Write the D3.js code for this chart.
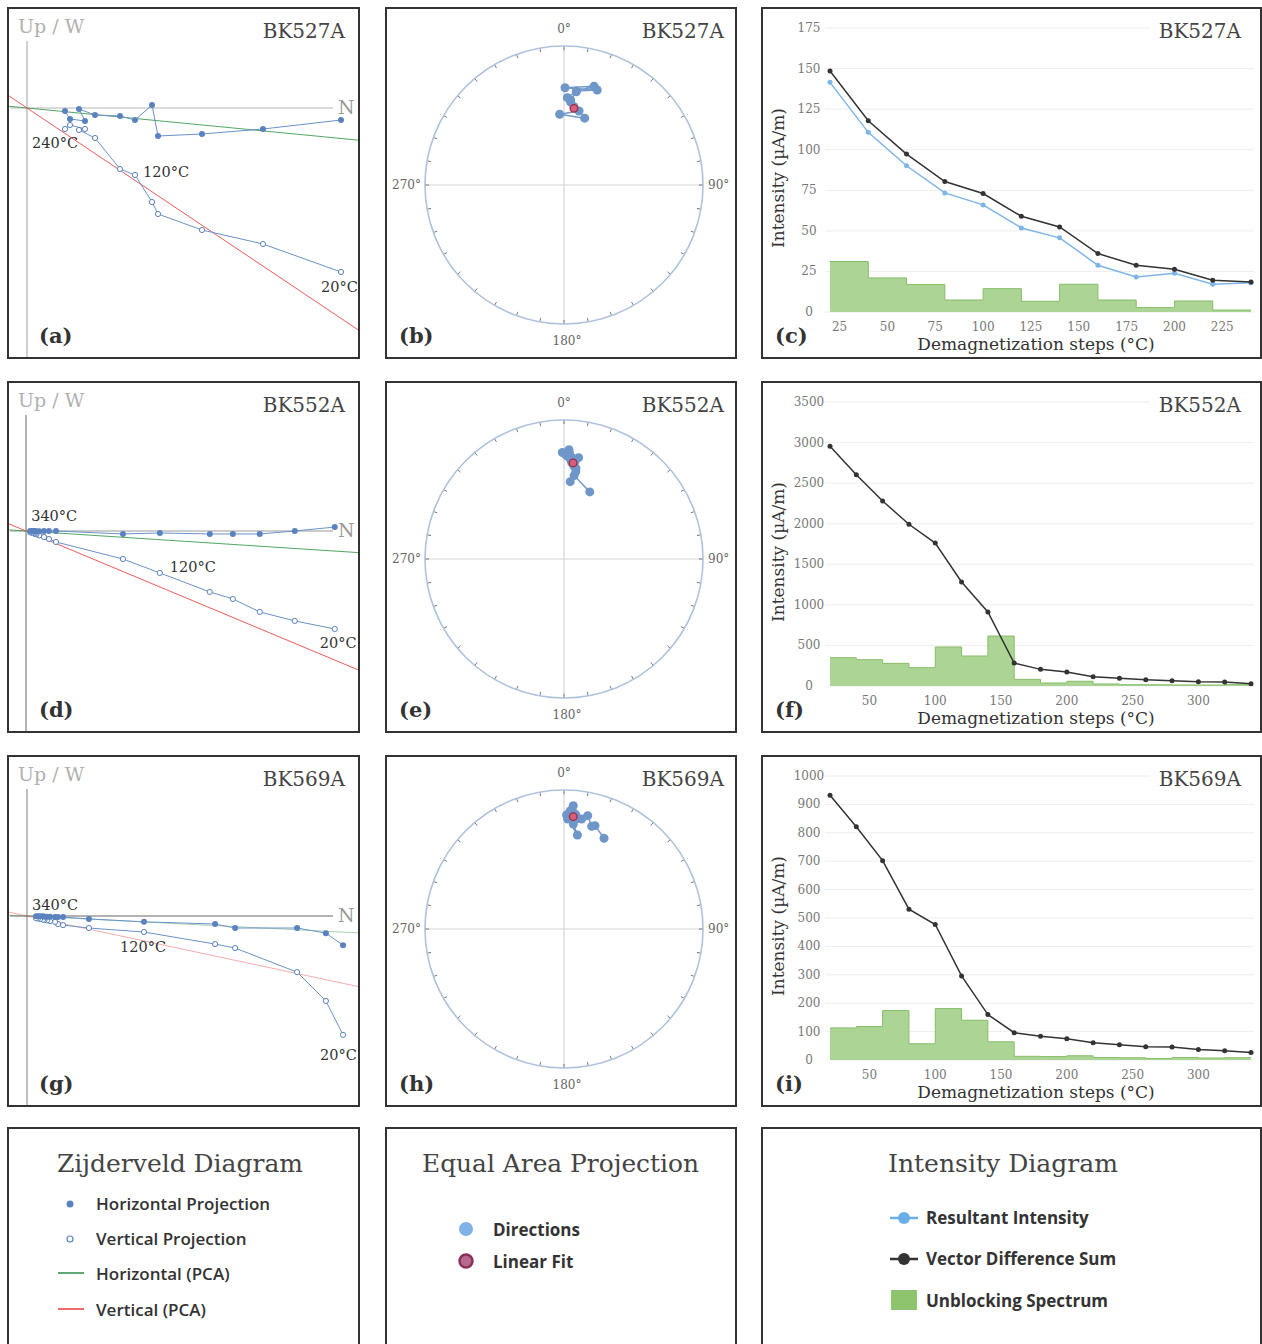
<!DOCTYPE html>
<html lang="en">
<head>
<meta charset="UTF-8">
<title>Demagnetization results - BK527A, BK552A, BK569A</title>
<script src="https://cdnjs.cloudflare.com/ajax/libs/d3/7.8.5/d3.min.js"></script>
<style>
    body { margin: 0; background: #fff; }
    svg { display: block; }
</style>
</head>
<body>
<svg id="fig" width="1262" height="1344"></svg>
<script>
// ---------- data ----------
const steps527 = [20, 40, 60, 80, 100, 120, 140, 160, 180, 200, 220, 240];
const steps552 = [20, 40, 60, 80, 100, 120, 140, 160, 180, 200, 220, 240, 260, 280, 300, 320, 340];
const steps569 = [20, 40, 60, 80, 100, 120, 140, 160, 180, 200, 220, 240, 260, 280, 300, 320, 340];

// Zijderveld components (µA/m): north, east, down
const north527 = [125.6, 94.4, 70, 52.4, 50, 43.2, 37.2, 27.2, 20.8, 23.2, 17.2, 15.2];
const east527  = [4.8, 8.4, 10.4, 11.2, -1.2, 4.8, 3.2, 2.8, 0.4, 5.2, 4.4, 1.2];
const down527  = [65.6, 54.4, 48.8, 42.4, 37.6, 26.8, 24.4, 12, 8.8, 8.4, 6.8, 8.4];

const north552 = [2812, 2448, 2129, 1884, 1674, 1219, 883, 273, 209, 164, 120, 95, 82, 72, 62, 52, 38];
const east552  = [-36, 0, 27, 27, 27, 18, 27, 0, 0, 0, 3, 2, 2, 1, 1, 1, 0];
const down552  = [892, 819, 737, 619, 555, 382, 255, 100, 73, 55, 40, 30, 26, 22, 18, 15, 12];

const north569 = [867, 820, 741, 571, 516, 321, 170, 99, 85, 77, 63, 55, 48, 44, 36, 30, 25];
const east569  = [80, 47, 33, 33, 22, 16, 8, 3, 3, 3, 2, 2, 2, 1, 1, 1, 1];
const down569  = [326, 233, 154, 88, 77, 44, 33, 25, 22, 16, 14, 12, 11, 10, 8, 7, 6];

// PCA fit slopes (east/north, down/north)
const pca527 = [0.097, 0.67];
const pca552 = [0.065, 0.418];
const pca569 = [0.051, 0.213];

// equal area directions (declination, inclination in degrees)
const dec527 = [17.2, -3.5, 11.5, 4.6, 2.2, 7.5, 19.3, 0.6, 16.9, 7.5, 4.5, 7.3];
const inc527 = [48.3, 47.7, 44.8, 40.0, 37.2, 32.4, 28.4, 30.7, 26.6, 32.8, 38.6, 42.6];
const fit527 = [7.4, 43.7];

const dec552 = [21.0, 6.9, 4.6, 7.7, 7.5, 8.2, 6.5, 3.9, 2.6, -0.9, 0.9, 3.0, 5.0, 6.0, 4.5, 2.0, 5.5];
const inc552 = [47.1, 39.4, 43.5, 36.7, 34.5, 27.2, 30.0, 29.3, 22.4, 24.4, 26.0, 25.0, 28.0, 33.0, 31.0, 27.0, 32.0];
const fit552 = [5.4, 31.2];

const dec569 = [23.8, 16.7, 15.1, 11.8, 9.1, 5.1, 8.1, 1.9, 1.3, 4.0, 4.3, 3.0, 6.0, 2.5, 7.0, 3.5, 5.5];
const inc569 = [29.4, 23.4, 24.5, 17.8, 21.0, 25.2, 32.2, 21.9, 19.1, 15.8, 12.0, 16.0, 19.0, 18.0, 21.0, 20.5, 18.0];
const fit569 = [4.7, 20.0];

// intensity (µA/m)
const res527 = [141.5, 110.7, 90.1, 73.4, 66, 51.8, 45.7, 28.8, 21.6, 23.9, 17.1, 18.1];
const vds527 = [148.5, 117.8, 97.3, 80.4, 73, 59, 52.4, 36, 28.8, 26.3, 19.6, 18.5];
const ubs527 = [31.1, 21, 16.9, 7.4, 14.4, 6.6, 17.1, 7.4, 2.7, 6.8, 1.2];

const vds552 = [2954, 2604, 2280, 1993, 1762, 1282, 912, 283, 205, 172, 115, 94, 78, 66, 53, 49, 29];
const ubs552 = [349, 324, 279, 226, 481, 370, 616, 82, 37, 58, 25, 16, 15, 13, 12, 20];

const vds569 = [932, 821, 702, 531, 477, 296, 160, 96, 84, 75, 61, 54, 47, 46, 37, 33, 26];
const ubs569 = [113, 118, 174, 57, 181, 140, 64, 13, 12, 15, 9, 8, 5, 9, 7, 8];

// tick labels
const yTicks527 = [0, 25, 50, 75, 100, 125, 150, 175];
const yTicks552 = [0, 500, 1000, 1500, 2000, 2500, 3000, 3500];
const yTicks569 = [0, 100, 200, 300, 400, 500, 600, 700, 800, 900, 1000];
const xTicks527 = [25, 50, 75, 100, 125, 150, 175, 200, 225];
const xTicks552 = [50, 100, 150, 200, 250, 300];

// ---------- layout ----------
const SERIF = "'DejaVu Serif', serif";
const SANS = "'Open Sans', Roboto, sans-serif";
const cols = [8, 386, 762];
const colW = [351, 350, 499];
const rows = [8, 382, 756];
const panelH = 350;

const svg = d3.select('#fig');

const samples = [
    {
        name: 'BK527A', letters: ['(a)', '(b)', '(c)'],
        steps: steps527, north: north527, east: east527, down: down527, pca: pca527,
        dec: dec527, inc: inc527, fit: fit527,
        res: res527, vds: vds527, ubs: ubs527, yTicks: yTicks527, xTicks: xTicks527,
        view: { k: 2.5, ox: 19, oy: 100, pcaOpacity: 0.9, vAxis: ['#cfcfcf', 2], hAxis: ['#b5b5b5', 1] },
        labels: [
            { i: 11, text: '240°C', dx: -33, dy: 19 },
            { i: 5, text: '120°C', dx: 8, dy: 2 },
            { i: 0, text: '20°C', dx: -20, dy: 20 }
        ],
        eaShift: 0
    },
    {
        name: 'BK552A', letters: ['(d)', '(e)', '(f)'],
        steps: steps552, north: north552, east: east552, down: down552, pca: pca552,
        dec: dec552, inc: inc552, fit: fit552,
        res: null, vds: vds552, ubs: ubs552, yTicks: yTicks552, xTicks: xTicks552,
        view: { k: 0.1098, ox: 18, oy: 149, pcaOpacity: 0.9, vAxis: ['#666', 1], hAxis: ['#999', 1] },
        labels: [
            { i: 16, text: '340°C', dx: 1, dy: -10, h: true },
            { i: 5, text: '120°C', dx: 10, dy: -1 },
            { i: 0, text: '20°C', dx: -15, dy: 19 }
        ],
        eaShift: 0
    },
    {
        name: 'BK569A', letters: ['(g)', '(h)', '(i)'],
        steps: steps569, north: north569, east: east569, down: down569, pca: pca569,
        dec: dec569, inc: inc569, fit: fit569,
        res: null, vds: vds569, ubs: ubs569, yTicks: yTicks569, xTicks: xTicks552,
        view: { k: 0.3645, ox: 19, oy: 160, pcaOpacity: 0.45, vAxis: ['#aaa', 1.5], hAxis: ['#666', 1] },
        labels: [
            { i: 16, text: '340°C', dx: -4, dy: -6, h: true },
            { i: 5, text: '120°C', dx: -24, dy: 20 },
            { i: 0, text: '20°C', dx: -23, dy: 25 }
        ],
        eaShift: -4
    }
];

function frame(x, y, w, h) {
    svg.append('rect')
        .attr('x', x).attr('y', y).attr('width', w).attr('height', h)
        .attr('fill', 'none').attr('stroke', '#333').attr('stroke-width', 2);
}

function panelLetter(x, y, t) {
    svg.append('text').attr('x', x).attr('y', y).text(t)
        .attr('font-family', SERIF).attr('font-weight', 'bold')
        .attr('font-size', 21).attr('fill', '#333');
}

function title(x, y, t) {
    return svg.append('text').attr('x', x).attr('y', y).text(t)
        .attr('text-anchor', 'end')
        .attr('font-family', SERIF).attr('font-size', 20).attr('fill', '#444');
}

// ---------- Zijderveld ----------
function zijderveld(s, idx, x0, y0, w, h) {
    const v = s.view;
    const xs = d3.scaleLinear().domain([0, 100]).range([x0 + v.ox, x0 + v.ox + 100 * v.k]);
    const ys = d3.scaleLinear().domain([0, 100]).range([y0 + v.oy, y0 + v.oy + 100 * v.k]);

    const clipId = 'clipz' + idx;
    svg.append('clipPath').attr('id', clipId).append('rect')
        .attr('x', x0 + 1).attr('y', y0 + 1).attr('width', w - 2).attr('height', h - 2);
    const g = svg.append('g').attr('clip-path', `url(#${clipId})`);

    // axes
    g.append('line').attr('x1', xs(0)).attr('x2', xs(0))
        .attr('y1', y0 + 33).attr('y2', y0 + h)
        .attr('stroke', v.vAxis[0]).attr('stroke-width', v.vAxis[1]);
    g.append('line').attr('x1', x0 + 2).attr('x2', x0 + 325)
        .attr('y1', ys(0)).attr('y2', ys(0))
        .attr('stroke', v.hAxis[0]).attr('stroke-width', v.hAxis[1]);

    svg.append('text').attr('x', x0 + 10).attr('y', y0 + 25).text('Up / W')
        .attr('font-family', SERIF).attr('font-size', 19).attr('fill', '#b0b0b0');
    svg.append('text').attr('x', x0 + 330).attr('y', ys(0) + 6).text('N')
        .attr('font-family', SERIF).attr('font-size', 19).attr('fill', '#999');

    // PCA lines
    const nMin = xs.invert(x0), nMax = xs.invert(x0 + w);
    g.append('line')
        .attr('x1', xs(nMin)).attr('y1', ys(nMin * s.pca[0]))
        .attr('x2', xs(nMax)).attr('y2', ys(nMax * s.pca[0]))
        .attr('stroke', '#3f9e55').attr('stroke-width', 1).attr('opacity', v.pcaOpacity);
    g.append('line')
        .attr('x1', xs(nMin)).attr('y1', ys(nMin * s.pca[1]))
        .attr('x2', xs(nMax)).attr('y2', ys(nMax * s.pca[1]))
        .attr('stroke', '#ee4a4a').attr('stroke-width', 1).attr('opacity', v.pcaOpacity);

    const idxs = d3.range(s.steps.length);
    const hLine = d3.line().x(i => xs(s.north[i])).y(i => ys(s.east[i]));
    const vLine = d3.line().x(i => xs(s.north[i])).y(i => ys(s.down[i]));

    g.append('path').attr('d', vLine(idxs)).attr('fill', 'none')
        .attr('stroke', '#6a92c9').attr('stroke-width', 1);
    g.append('path').attr('d', hLine(idxs)).attr('fill', 'none')
        .attr('stroke', '#6a92c9').attr('stroke-width', 1);

    g.selectAll('.vpt').data(idxs).join('circle')
        .attr('cx', i => xs(s.north[i])).attr('cy', i => ys(s.down[i]))
        .attr('r', 2.6).attr('fill', '#fff').attr('stroke', '#5a82be').attr('stroke-width', 1);
    g.selectAll('.hpt').data(idxs).join('circle')
        .attr('cx', i => xs(s.north[i])).attr('cy', i => ys(s.east[i]))
        .attr('r', 3).attr('fill', '#5a82be');

    s.labels.forEach(l => {
        const px = xs(s.north[l.i]);
        const py = l.h ? ys(s.east[l.i]) : ys(s.down[l.i]);
        svg.append('text').attr('x', px + l.dx).attr('y', py + l.dy).text(l.text)
            .attr('font-family', SERIF).attr('font-size', 14.5).attr('fill', '#333');
    });

    title(x0 + 337, y0 + 30, s.name);
    panelLetter(x0 + 31, y0 + 335, s.letters[0]);
}

// ---------- Equal area ----------
function equalArea(s, x0, y0, w) {
    const cx = x0 + 178, cy = y0 + 177 + s.eaShift, R = 139;
    const rs = d3.scaleSqrt().domain([0, 1]).range([0, R]);
    const rad = Math.PI / 180;
    const px = (dec, inc) => cx + rs(1 - Math.sin(inc * rad)) * Math.sin(dec * rad);
    const py = (dec, inc) => cy - rs(1 - Math.sin(inc * rad)) * Math.cos(dec * rad);

    svg.append('line').attr('x1', cx).attr('x2', cx).attr('y1', cy - R).attr('y2', cy + R)
        .attr('stroke', '#d4d4d4').attr('stroke-width', 1.2);
    svg.append('line').attr('x1', cx - R).attr('x2', cx + R).attr('y1', cy).attr('y2', cy)
        .attr('stroke', '#d4d4d4').attr('stroke-width', 1.2);

    const ticks = d3.range(0, 360, 10);
    svg.selectAll(null).data(ticks).join('line')
        .attr('x1', a => cx + R * Math.sin(a * rad)).attr('y1', a => cy - R * Math.cos(a * rad))
        .attr('x2', a => cx + (R - 4) * Math.sin(a * rad)).attr('y2', a => cy - (R - 4) * Math.cos(a * rad))
        .attr('stroke', '#777').attr('stroke-width', 1);

    svg.append('circle').attr('cx', cx).attr('cy', cy).attr('r', R)
        .attr('fill', 'none').attr('stroke', '#aec3dd').attr('stroke-width', 1.6);

    const lab = (x, y, t, anchor) => svg.append('text').attr('x', x).attr('y', y).text(t)
        .attr('text-anchor', anchor).attr('font-family', SERIF)
        .attr('font-size', 12).attr('fill', '#666');
    lab(cx, cy - R - 13, '0°', 'middle');
    lab(cx + 3, cy + R + 21, '180°', 'middle');
    lab(cx + R + 5, cy + 4, '90°', 'start');
    lab(cx - R - 4, cy + 4, '270°', 'end');

    const idxs = d3.range(s.dec.length);
    const line = d3.line().x(i => px(s.dec[i], s.inc[i])).y(i => py(s.dec[i], s.inc[i]));
    svg.append('path').attr('d', line(idxs)).attr('fill', 'none')
        .attr('stroke', '#739acb').attr('stroke-width', 1.5);
    svg.selectAll(null).data(idxs).join('circle')
        .attr('cx', i => px(s.dec[i], s.inc[i])).attr('cy', i => py(s.dec[i], s.inc[i]))
        .attr('r', 4.5).attr('fill', '#6f96c9');
    svg.append('circle')
        .attr('cx', px(s.fit[0], s.fit[1])).attr('cy', py(s.fit[0], s.fit[1]))
        .attr('r', 3.8).attr('fill', '#d6607c').attr('stroke', '#9b2d4d').attr('stroke-width', 1.3);

    title(x0 + 338, y0 + 30, s.name);
    panelLetter(x0 + 13, y0 + 335, s.letters[1]);
}

// ---------- Intensity ----------
function intensity(s, x0, y0, w) {
    const steps = s.steps;
    const x = d3.scaleLinear().domain([20, steps[steps.length - 1]]).range([830, 1251]);
    const y = d3.scaleLinear().domain([0, s.yTicks[s.yTicks.length - 1]]).range([y0 + 304, y0 + 20]);

    svg.selectAll(null).data(s.yTicks).join('line')
        .attr('x1', 825).attr('x2', 1254)
        .attr('y1', d => y(d)).attr('y2', d => y(d))
        .attr('stroke', '#eeeeee').attr('stroke-width', 1);
    svg.selectAll(null).data(s.yTicks).join('text')
        .attr('x', 809).attr('y', d => y(d) + 4).text(d => d)
        .attr('text-anchor', 'middle').attr('font-family', SERIF)
        .attr('font-size', 12).attr('fill', '#777');
    svg.selectAll(null).data(s.xTicks).join('text')
        .attr('x', d => x(d)).attr('y', y0 + 323).text(d => d)
        .attr('text-anchor', 'middle').attr('font-family', SERIF)
        .attr('font-size', 12).attr('fill', '#777');

    // unblocking spectrum as step area
    const ub = s.ubs.map((v, i) => [steps[i], v]);
    ub.push([steps[steps.length - 1], s.ubs[s.ubs.length - 1]]);
    const area = d3.area().curve(d3.curveStepAfter)
        .x(d => x(d[0])).y0(y(0)).y1(d => y(d[1]));
    const top = d3.line().curve(d3.curveStepAfter).x(d => x(d[0])).y(d => y(d[1]));
    svg.append('path').attr('d', area(ub)).attr('fill', '#9dce82').attr('opacity', 0.85);
    svg.append('path').attr('d', top(ub)).attr('fill', 'none')
        .attr('stroke', '#86bd69').attr('stroke-width', 1);

    const drawSeries = (vals, color) => {
        const line = d3.line().x((d, i) => x(steps[i])).y(d => y(d));
        svg.append('path').attr('d', line(vals)).attr('fill', 'none')
            .attr('stroke', color).attr('stroke-width', 1.5);
        svg.selectAll(null).data(vals).join('circle')
            .attr('cx', (d, i) => x(steps[i])).attr('cy', d => y(d))
            .attr('r', 2.5).attr('fill', color);
    };
    if (s.res) drawSeries(s.res, '#7db5e9');
    drawSeries(s.vds, '#333');

    svg.append('rect').attr('x', 1150).attr('y', y0 + 10).attr('width', 104).attr('height', 30)
        .attr('fill', '#fff');
    title(1241, y0 + 30, s.name);

    svg.append('text').attr('x', 1036).attr('y', y0 + 342)
        .text('Demagnetization steps (°C)')
        .attr('text-anchor', 'middle').attr('font-family', SERIF)
        .attr('font-size', 17).attr('fill', '#333');
    svg.append('text')
        .attr('transform', `translate(${x0 + 22},${y0 + 170}) rotate(-90)`)
        .text('Intensity (µA/m)')
        .attr('text-anchor', 'middle').attr('font-family', SERIF)
        .attr('font-size', 17).attr('fill', '#333');

    panelLetter(x0 + 13, y0 + 335, s.letters[2]);
}

samples.forEach((s, r) => {
    const y0 = rows[r];
    zijderveld(s, r, cols[0], y0, colW[0], panelH);
    equalArea(s, cols[1], y0, colW[1]);
    intensity(s, cols[2], y0, colW[2]);
    frame(cols[0], y0, colW[0], panelH);
    frame(cols[1], y0, colW[1], panelH);
    frame(cols[2], y0, colW[2], panelH);
});

// ---------- legends ----------
const legY = 1128;
cols.forEach((c, i) => frame(c, legY, colW[i], 260));

function legTitle(x, t, len) {
    svg.append('text').attr('x', x).attr('y', 1172).text(t)
        .attr('font-family', SERIF).attr('font-size', 25).attr('fill', '#444')
        .attr('textLength', len).attr('lengthAdjust', 'spacingAndGlyphs');
}
function legText(x, y, t, weight) {
    svg.append('text').attr('x', x).attr('y', y).text(t)
        .attr('font-family', SANS).attr('font-size', 17)
        .attr('font-weight', weight).attr('fill', '#333');
}

legTitle(57, 'Zijderveld Diagram', 246);
svg.append('circle').attr('cx', 70).attr('cy', 1204).attr('r', 3.5).attr('fill', '#5a82be');
legText(96, 1210, 'Horizontal Projection', 600);
svg.append('circle').attr('cx', 70).attr('cy', 1239).attr('r', 3).attr('fill', '#fff')
    .attr('stroke', '#5a82be').attr('stroke-width', 1.2);
legText(96, 1245, 'Vertical Projection', 600);
svg.append('line').attr('x1', 58).attr('x2', 84).attr('y1', 1273).attr('y2', 1273)
    .attr('stroke', '#2e8b45').attr('stroke-width', 1.5);
legText(96, 1280, 'Horizontal (PCA)', 600);
svg.append('line').attr('x1', 58).attr('x2', 84).attr('y1', 1309).attr('y2', 1309)
    .attr('stroke', '#e83a3a').attr('stroke-width', 1.5);
legText(96, 1316, 'Vertical (PCA)', 600);

legTitle(422, 'Equal Area Projection', 277);
svg.append('circle').attr('cx', 466).attr('cy', 1229).attr('r', 7).attr('fill', '#7fb3e6');
legText(493, 1236, 'Directions', 700);
svg.append('circle').attr('cx', 466).attr('cy', 1261).attr('r', 6.5).attr('fill', '#b66a8e')
    .attr('stroke', '#8c2f5a').attr('stroke-width', 2.5);
legText(493, 1268, 'Linear Fit', 700);

legTitle(888, 'Intensity Diagram', 230);
svg.append('line').attr('x1', 890).attr('x2', 918).attr('y1', 1218).attr('y2', 1218)
    .attr('stroke', '#6aaee8').attr('stroke-width', 2.5);
svg.append('circle').attr('cx', 904).attr('cy', 1218).attr('r', 6).attr('fill', '#6aaee8');
legText(926, 1224, 'Resultant Intensity', 700);
svg.append('line').attr('x1', 890).attr('x2', 918).attr('y1', 1259).attr('y2', 1259)
    .attr('stroke', '#333').attr('stroke-width', 2.5);
svg.append('circle').attr('cx', 904).attr('cy', 1259).attr('r', 6).attr('fill', '#333');
legText(926, 1265, 'Vector Difference Sum', 700);
svg.append('rect').attr('x', 891).attr('y', 1290).attr('width', 26).attr('height', 20)
    .attr('fill', '#8fc46f');
legText(926, 1307, 'Unblocking Spectrum', 700);
</script>
</body>
</html>
